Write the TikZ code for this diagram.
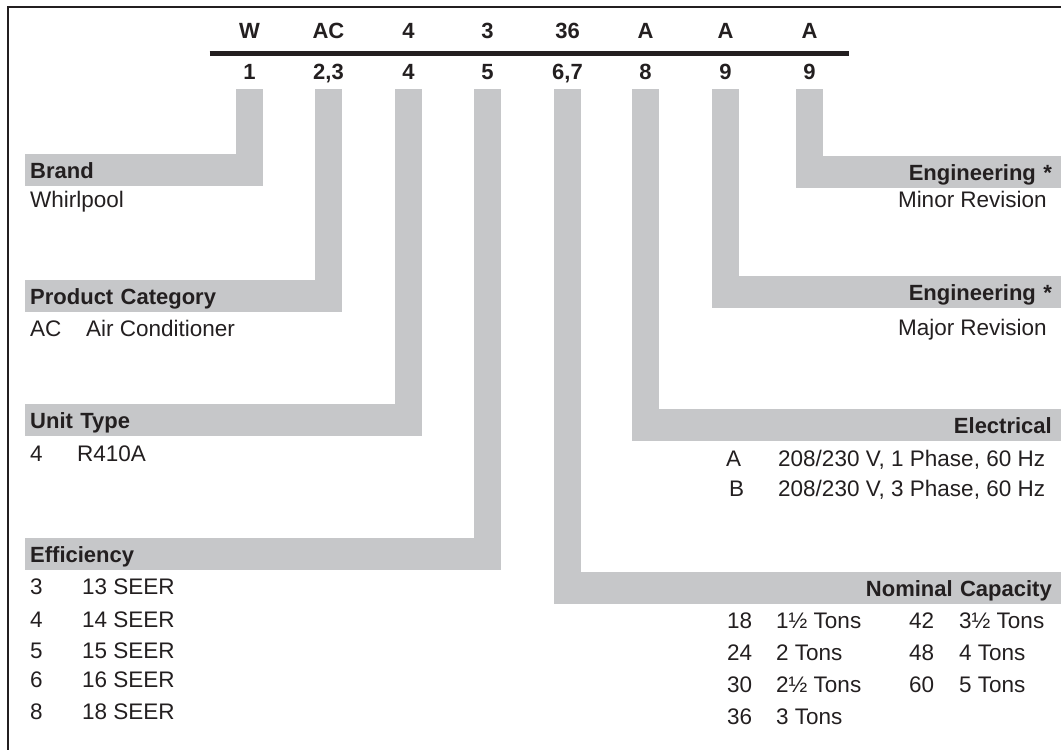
\documentclass[tikz,border=0pt]{standalone}
\usepackage{fontspec}
\setmainfont{Liberation Sans}
\definecolor{ink}{HTML}{231F20}
\definecolor{bandgrey}{HTML}{C6C7C9}
\tikzset{
    txt/.style={font=\fontsize{22.5pt}{26pt}\selectfont, text=ink, inner sep=0pt},
    code/.style={txt, font=\fontsize{22pt}{26pt}\selectfont\bfseries, text height=15.8pt, text depth=0pt},
    band/.style={code, fill=bandgrey, minimum height=32pt},
    lband/.style={band, anchor=north west, inner xsep=5pt, align=left},
    rband/.style={band, anchor=north east, inner xsep=9pt, align=right},
    item/.style={txt, anchor=base west},
    ritem/.style={txt, anchor=base east},
    link/.style={draw=bandgrey, line width=27pt},
}
\begin{document}
\begin{tikzpicture}[x=1pt, y=-1pt]
    \useasboundingbox (0,0) rectangle (1061,750);
    \draw[line width=1.6pt, ink] (8,750) -- (8,6.75) -- (1061,6.75);

    \node[code] at (249.5,31) (t1) {W};
    \node[code] at (328.5,31) (t2) {AC};
    \node[code] at (408.5,31) (t3) {4};
    \node[code] at (487.5,31) (t4) {3};
    \node[code] at (567.5,31) (t5) {36};
    \node[code] at (645.5,31) (t6) {A};
    \node[code] at (725.5,31) (t7) {A};
    \node[code] at (809.5,31) (t8) {A};

    \coordinate (barL) at (209.5,53.5);
    \coordinate (barR) at (849,53.5);
    \draw[line width=5pt, ink] (barL) -- (barR);

    \node[code] at (249.5,72) (p1) {1};
    \node[code] at (328.5,72) (p2) {2,3};
    \node[code] at (408.5,72) (p3) {4};
    \node[code] at (487.5,72) (p4) {5};
    \node[code] at (567.5,72) (p5) {6,7};
    \node[code] at (645.5,72) (p6) {8};
    \node[code] at (725.5,72) (p7) {9};
    \node[code] at (809.5,72) (p8) {9};

    \node[lband, text width=228pt] at (25,154) (brand) {Brand};
    \node[lband, text width=307pt] at (25,280) (category) {Product Category};
    \node[lband, text width=387pt] at (25,404) (unit) {Unit Type};
    \node[lband, text width=466pt] at (25,538) (eff) {Efficiency};
    \node[rband, text width=247pt] at (1061,156) (minor) {Engineering *};
    \node[rband, text width=331pt] at (1061,276) (major) {Engineering *};
    \node[rband, text width=411pt] at (1061,409) (elec) {Electrical};
    \node[rband, text width=489pt] at (1061,572) (cap) {Nominal Capacity};

    \draw[link] ([yshift=-9pt]p1.south) -- (p1 |- brand);
    \draw[link] ([yshift=-9pt]p2.south) -- (p2 |- category);
    \draw[link] ([yshift=-9pt]p3.south) -- (p3 |- unit);
    \draw[link] ([yshift=-9pt]p4.south) -- (p4 |- eff);
    \draw[link] ([yshift=-9pt]p5.south) -- (p5 |- cap);
    \draw[link] ([yshift=-9pt]p6.south) -- (p6 |- elec);
    \draw[link] ([yshift=-9pt]p7.south) -- (p7 |- major);
    \draw[link] ([yshift=-9pt]p8.south) -- (p8 |- minor);

    \node[item] at (30,207) (brand1) {Whirlpool};
    \node[item] at (30,336.5) (cat1) {AC};
    \node[item] at (86,336.5) (cat1t) {Air Conditioner};
    \node[item] at (30,461) (unit1) {4};
    \node[item] at (77,461) (unit1t) {R410A};

    \node[item] at (30,594.5) (eff1) {3};
    \node[item] at (82,594.5) (eff1t) {13 SEER};
    \node[item] at (30,627) (eff2) {4};
    \node[item] at (82,627) (eff2t) {14 SEER};
    \node[item] at (30,658) (eff3) {5};
    \node[item] at (82,658) (eff3t) {15 SEER};
    \node[item] at (30,687) (eff4) {6};
    \node[item] at (82,687) (eff4t) {16 SEER};
    \node[item] at (30,719) (eff5) {8};
    \node[item] at (82,719) (eff5t) {18 SEER};

    \node[ritem] at (1047,207) (minor1) {Minor Revision};
    \node[ritem] at (1047,335) (major1) {Major Revision};

    \node[item] at (726,466) (elec1) {A};
    \node[item] at (778,466) (elec1t) {208/230 V, 1 Phase, 60 Hz};
    \node[item] at (729,496.5) (elec2) {B};
    \node[item] at (778,496.5) (elec2t) {208/230 V, 3 Phase, 60 Hz};

    \node[item] at (727,628) (cap1) {18};
    \node[item] at (776,628) (cap1t) {1½ Tons};
    \node[item] at (727,660) (cap2) {24};
    \node[item] at (776,660) (cap2t) {2 Tons};
    \node[item] at (727,692) (cap3) {30};
    \node[item] at (776,692) (cap3t) {2½ Tons};
    \node[item] at (727,724.5) (cap4) {36};
    \node[item] at (776,724.5) (cap4t) {3 Tons};
    \node[item] at (909,628) (cap5) {42};
    \node[item] at (959,628) (cap5t) {3½ Tons};
    \node[item] at (909,660) (cap6) {48};
    \node[item] at (959,660) (cap6t) {4 Tons};
    \node[item] at (909,692) (cap7) {60};
    \node[item] at (959,692) (cap7t) {5 Tons};
\end{tikzpicture}
\end{document}
